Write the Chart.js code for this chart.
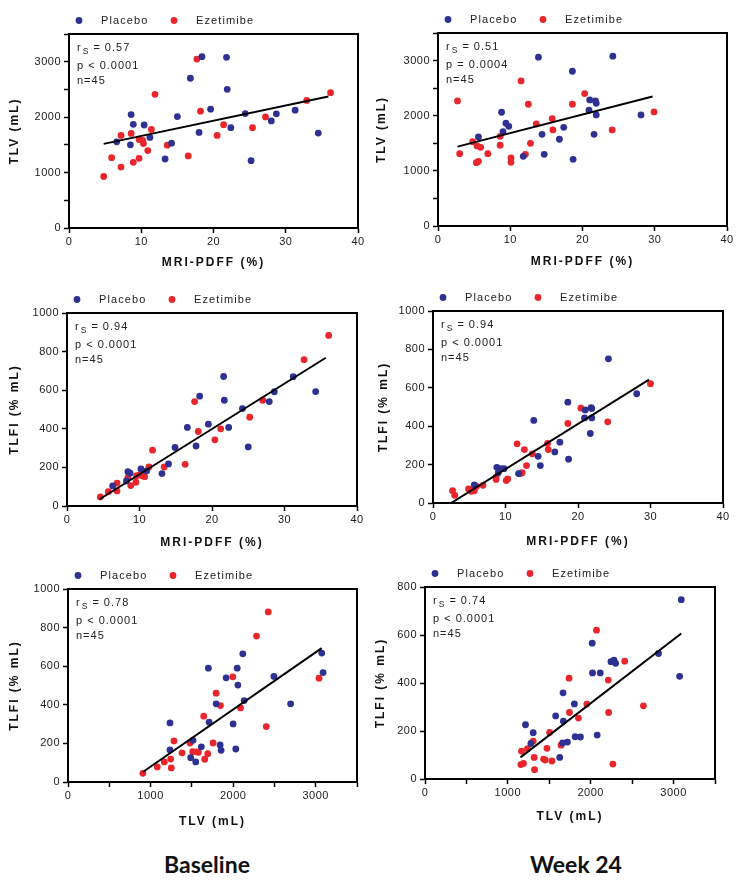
<!DOCTYPE html>
<html>
<head>
<title>TLV and TLFI vs MRI-PDFF</title>
<meta charset="UTF-8">
<script src="https://cdn.jsdelivr.net/npm/chart.js@4.4.0/dist/chart.umd.min.js"></script>
<style>
  body { margin: 0; background: #fff; width: 742px; height: 886px; position: relative; overflow: hidden; }
  canvas { position: absolute; }
  .caption { position: absolute; top: 850px; font-family: Lato, "Open Sans", sans-serif; font-weight: bold;
             font-size: 23px; line-height: 28px; color: #111; transform: translateX(-50%); white-space: nowrap; }
</style>
</head>
<body>
<canvas id="c1" width="371" height="280" style="left:0;top:0"></canvas>
<canvas id="c2" width="371" height="280" style="left:371px;top:0"></canvas>
<canvas id="c3" width="371" height="280" style="left:0;top:280px"></canvas>
<canvas id="c4" width="371" height="280" style="left:371px;top:280px"></canvas>
<canvas id="c5" width="371" height="280" style="left:0;top:560px"></canvas>
<canvas id="c6" width="371" height="280" style="left:371px;top:560px"></canvas>
<div class="caption" style="left:207px">Baseline</div>
<div class="caption" style="left:576px">Week 24</div>

<script>
// ---- data: [x, y] pairs ----
// baseline, TLV (mL) vs MRI-PDFF (%)
const blTlvPlacebo = [[6.6,1555],[8.5,1500],[8.6,2047],[8.9,1870],[10.4,1858],[11.2,1634],[13.3,1245],[14.2,1530],[15.0,2010],[16.8,2702],[18.0,1725],[18.4,3091],[19.6,2144],[21.8,3079],[21.9,2502],[22.4,1810],[24.4,2065],[25.2,1215],[28.0,1931],[28.7,2059],[31.3,2125],[34.5,1713]];
const blTlvEzet = [[4.8,929],[5.9,1269],[7.2,1670],[7.2,1099],[8.6,1706],[8.9,1184],[9.7,1257],[9.7,1597],[10.2,1579],[10.3,1524],[10.9,1397],[11.4,1779],[11.9,2411],[13.6,1494],[16.5,1300],[17.7,3048],[18.2,2107],[20.5,1670],[21.4,1864],[25.4,1810],[27.2,2004],[32.9,2302],[36.2,2441]];
const blTlvFit = [[4.8,1518],[35.9,2374]];

// week 24, TLV (mL) vs MRI-PDFF (%)
const wkTlvPlacebo = [[5.6,1615],[8.8,2063],[9.0,1712],[9.4,1863],[9.8,1808],[11.8,1264],[13.9,3061],[14.4,1663],[14.7,1300],[16.8,1573],[17.4,1790],[18.6,2806],[18.7,1210],[21.0,2286],[20.9,2099],[21.6,1663],[21.8,2268],[21.9,2226],[21.9,2014],[24.2,3079],[28.1,2014]];
const wkTlvEzet = [[2.7,2268],[3.0,1312],[4.8,1530],[5.3,1149],[5.6,1173],[5.4,1452],[5.9,1427],[6.9,1312],[8.6,1627],[8.6,1464],[10.1,1155],[10.1,1234],[11.5,2631],[12.1,1300],[12.5,2208],[12.8,1500],[13.6,1851],[15.8,1948],[15.9,1742],[18.6,2208],[20.3,2401],[24.1,1742],[29.9,2069]];
const wkTlvFit = [[2.7,1440],[29.7,2347]];

// baseline, TLFI (% mL) vs MRI-PDFF (%)
const blTlfiPlacebo = [[6.3,104],[8.2,130],[8.4,178],[8.7,170],[10.2,192],[11.0,182],[13.1,168],[14.0,218],[14.9,303],[16.6,407],[17.8,311],[18.3,569],[19.5,424],[21.6,671],[21.7,548],[22.3,407],[24.2,505],[25.0,306],[27.9,541],[28.6,592],[31.2,670],[34.3,593]];
const blTlfiEzet = [[4.6,47],[5.7,74],[6.9,78],[6.9,119],[8.4,147],[8.8,106],[9.5,123],[9.6,157],[10.0,161],[10.4,157],[10.7,152],[11.3,202],[11.8,289],[13.4,202],[16.3,216],[17.6,541],[18.1,386],[20.4,343],[21.2,400],[25.2,460],[27.0,548],[32.7,758],[36.1,884]];
const blTlfiFit = [[4.5,35],[35.7,768]];

// week 24, TLFI (% mL) vs MRI-PDFF (%)
const wkTlfiPlacebo = [[5.7,94],[8.8,186],[9.0,157],[9.4,179],[9.8,179],[11.8,153],[13.9,430],[14.5,243],[14.8,195],[16.8,266],[17.5,317],[18.6,525],[18.7,228],[20.9,443],[21.0,485],[21.7,362],[21.8,496],[21.9,492],[21.9,443],[24.2,751],[28.1,569]];
const wkTlfiEzet = [[2.7,64],[3.0,40],[4.9,73],[5.3,61],[5.5,71],[5.7,64],[6.0,87],[6.9,92],[8.7,134],[8.7,123],[10.1,117],[10.3,125],[11.6,308],[12.1,153],[12.3,158],[12.6,278],[12.9,195],[13.7,256],[15.8,310],[15.9,278],[18.6,414],[20.4,494],[24.1,423],[30.0,621]];
const wkTlfiFit = [[2.5,0],[29.8,643]];

// baseline, TLFI (% mL) vs TLV (mL)
const blCrossPlacebo = [[1235,306],[1235,166],[1486,126],[1514,216],[1547,104],[1615,182],[1709,310],[1700,590],[1794,405],[1842,192],[1854,164],[1915,540],[2000,301],[2032,171],[2049,590],[2057,502],[2117,664],[2134,422],[2494,547],[2696,405],[3073,668],[3089,567]];
const blCrossEzet = [[907,45],[1081,78],[1166,104],[1243,119],[1251,73],[1283,213],[1381,151],[1478,202],[1510,157],[1567,156],[1579,154],[1644,341],[1656,118],[1692,147],[1757,202],[1794,460],[1846,396],[1996,545],[2089,384],[2283,756],[2401,287],[2425,881],[3040,538]];
const blCrossFit = [[907,52],[3073,694]];

// week 24, TLFI (% mL) vs TLV (mL)
const wkCrossPlacebo = [[1213,226],[1278,148],[1306,193],[1577,263],[1626,90],[1666,359],[1670,241],[1660,150],[1719,154],[1803,313],[1812,176],[1876,175],[2018,566],[2022,442],[2078,183],[2115,442],[2244,489],[2281,495],[2301,482],[2818,523],[3073,428],[3093,747]];
const wkCrossEzet = [[1157,60],[1165,116],[1189,65],[1237,126],[1306,158],[1318,90],[1322,39],[1431,83],[1452,79],[1472,128],[1504,194],[1532,75],[1642,141],[1739,420],[1743,277],[1852,254],[1953,312],[2070,620],[2212,412],[2216,277],[2268,62],[2410,491],[2636,305]];
const wkCrossFit = [[1152,90],[3093,606]];

// statistics printed in each panel (c1..c6)
const rsValues = ['0.57', '0.51', '0.94', '0.94', '0.78', '0.74'];
const pValues = ['p < 0.0001', 'p = 0.0004', 'p < 0.0001', 'p < 0.0001', 'p < 0.0001', 'p < 0.0001'];
const nValue = 'n=45';

const seriesNames = ['Placebo', 'Ezetimibe'];
const blue = '#2e3192';
const red = '#e8262c';
const FONT = '"Liberation Sans", Arial, sans-serif';

// frame, legend and stats text drawn on top of each panel
const panelDecor = {
  id: 'panelDecor',
  beforeDraw(chart) { chart.ctx.letterSpacing = '2px'; },          // axis titles
  beforeDatasetsDraw(chart) { chart.ctx.letterSpacing = '0px'; },
  afterDatasetsDraw(chart) { chart.ctx.letterSpacing = '0.5px'; },  // tick labels (z: 1)
  afterDraw(chart, args, opts) {
    const ctx = chart.ctx, a = chart.chartArea;
    ctx.save();
    ctx.letterSpacing = '0px';
    ctx.strokeStyle = '#000';
    ctx.lineWidth = 2;
    ctx.strokeRect(a.left, a.top, a.right - a.left, a.bottom - a.top);

    // legend row above the box
    ctx.font = '11px ' + FONT;
    ctx.textBaseline = 'middle';
    ctx.letterSpacing = '1.1px';
    const ly = a.top - 13.5;
    [1, 2].forEach(function(di, i) {
      const ds = chart.data.datasets[di];
      const cx = a.left + 10 + i * 95;
      ctx.fillStyle = ds.backgroundColor;
      ctx.beginPath();
      ctx.arc(cx, ly, 3.4, 0, Math.PI * 2);
      ctx.fill();
      ctx.fillStyle = '#222';
      ctx.fillText(ds.label, cx + 22, ly + 0.5);
    });

    // r_S / p / n block
    ctx.textBaseline = 'alphabetic';
    ctx.letterSpacing = '1px';
    let x = a.left + 8;
    ctx.fillText('r', x, a.top + 16.5);
    x += ctx.measureText('r').width + 1;
    ctx.font = '8.5px ' + FONT;
    ctx.fillText('S', x, a.top + 19.5);
    x += ctx.measureText('S').width;
    ctx.font = '11px ' + FONT;
    ctx.fillText(' = ' + opts.rs, x, a.top + 16.5);
    ctx.fillText(opts.p, a.left + 8, a.top + 35);
    ctx.fillText(nValue, a.left + 8, a.top + 49.5);
    ctx.restore();
  }
};

function pts(arr) { return arr.map(function(d) { return {x: d[0], y: d[1]}; }); }

function makeAxis(opt) {
  return {
    type: 'linear',
    min: 0,
    max: opt.max,
    afterFit: opt.fit,
    ticks: {
      stepSize: opt.step,
      autoSkip: false,
      maxRotation: 0,
      z: 1,
      padding: opt.tickPad,
      color: '#222',
      font: {family: FONT, size: 11},
      callback: function(v) { return v % opt.every === 0 ? String(v) : ''; }
    },
    grid: {drawOnChartArea: false, tickLength: 5, tickColor: '#000', tickWidth: 1.5},
    border: {color: '#000', width: 2},
    title: {
      display: true,
      text: opt.title,
      color: '#111',
      font: {family: FONT, size: 12, weight: 'bold'},
      padding: opt.titlePad
    }
  };
}

// layout of each panel: box = [left, right, top, bottom] inside its canvas
const panels = [
  {id: 'c1', sets: [blTlvFit, blTlvPlacebo, blTlvEzet], box: [69, 358, 34, 228], xT: 263, yT: 15,
   x: ['MRI-PDFF (%)', 40, 10, 10], y: ['TLV (mL)', 3500, 500, 1000]},
  {id: 'c2', sets: [wkTlvFit, wkTlvPlacebo, wkTlvEzet], box: [67, 356, 33, 226], xT: 262, yT: 11,
   x: ['MRI-PDFF (%)', 40, 10, 10], y: ['TLV (mL)', 3500, 500, 1000]},
  {id: 'c3', sets: [blTlfiFit, blTlfiPlacebo, blTlfiEzet], box: [67, 357, 33, 226], xT: 263, yT: 15,
   x: ['MRI-PDFF (%)', 40, 10, 10], y: ['TLFI (% mL)', 1000, 200, 200]},
  {id: 'c4', sets: [wkTlfiFit, wkTlfiPlacebo, wkTlfiEzet], box: [62, 352, 31, 223], xT: 262, yT: 13,
   x: ['MRI-PDFF (%)', 40, 10, 10], y: ['TLFI (% mL)', 1000, 200, 200]},
  {id: 'c5', sets: [blCrossFit, blCrossPlacebo, blCrossEzet], box: [68, 357, 29, 222], xT: 262, yT: 15,
   x: ['TLV (mL)', 3500, 500, 1000], y: ['TLFI (% mL)', 1000, 200, 200]},
  {id: 'c6', sets: [wkCrossFit, wkCrossPlacebo, wkCrossEzet], box: [54, 344, 27, 219], xT: 257, yT: 10,
   x: ['TLV (mL)', 3500, 500, 1000], y: ['TLFI (% mL)', 800, 200, 200]}
];

panels.forEach(function(p, i) {
  const canvas = document.getElementById(p.id);
  const W = canvas.width, H = canvas.height;
  const L = p.box[0], R = p.box[1], T = p.box[2], B = p.box[3];

  new Chart(canvas.getContext('2d'), {
    type: 'scatter',
    data: {
      datasets: [
        {label: 'fit', data: pts(p.sets[0]), showLine: true, borderColor: '#000', borderWidth: 2,
         pointRadius: 0, fill: false},
        {label: seriesNames[0], data: pts(p.sets[1]), backgroundColor: blue, borderColor: blue,
         pointRadius: 3.4, pointBorderWidth: 0},
        {label: seriesNames[1], data: pts(p.sets[2]), backgroundColor: red, borderColor: red,
         pointRadius: 3.4, pointBorderWidth: 0}
      ]
    },
    options: {
      responsive: false,
      animation: false,
      events: [],
      layout: {padding: {left: 0, right: W - R, top: T, bottom: 0}},
      plugins: {
        legend: {display: false},
        tooltip: {enabled: false},
        panelDecor: {rs: rsValues[i], p: pValues[i]}
      },
      scales: {
        x: makeAxis({title: p.x[0], max: p.x[1], step: p.x[2], every: p.x[3], tickPad: 2,
                     titlePad: {top: 0, bottom: H - p.xT - 7.2},
                     fit: function(s) { s.height = H - B; }}),
        y: makeAxis({title: p.y[0], max: p.y[1], step: p.y[2], every: p.y[3], tickPad: 3,
                     titlePad: {top: Math.max(0, p.yT - 7.2), bottom: 0},
                     fit: function(s) { s.width = L; }})
      }
    },
    plugins: [panelDecor]
  });
});
</script>
</body>
</html>
